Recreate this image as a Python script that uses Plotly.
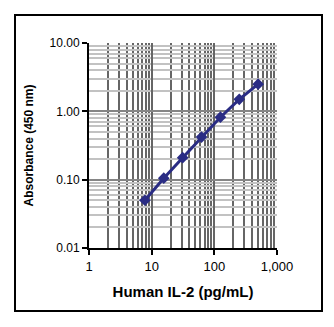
import plotly.graph_objects as go

# IL-2 standard curve
conc = [7.8, 15.6, 31.25, 62.5, 125, 250, 500]
absorbance = [0.05, 0.105, 0.21, 0.42, 0.82, 1.5, 2.5]

x_ticks = [1, 10, 100, 1000]
x_tick_text = ["1", "10", "100", "1,000"]
y_ticks = [0.01, 0.1, 1, 10]
y_tick_text = ["0.01", "0.10", "1.00", "10.00"]

W, H = 334, 327
L, R, T, B = 89, 57, 43, 79
pw, ph = W - L - R, H - T - B

fig = go.Figure()
fig.add_trace(go.Scatter(
    x=conc, y=absorbance, mode="lines+markers",
    line=dict(color="#2A2C84", width=3),
    marker=dict(symbol="diamond", size=9, color="#2A2C84"),
    showlegend=False,
))

font = dict(family="Liberation Sans, Arial, sans-serif", color="black")

fig.update_xaxes(
    type="log", range=[0, 3],
    tickvals=x_ticks, ticktext=x_tick_text,
    ticks="outside", ticklen=5, tickwidth=2, tickcolor="black",
    showline=True, linecolor="black", linewidth=2,
    showgrid=True, gridcolor="#666666", gridwidth=2,
    minor=dict(dtick="D1", showgrid=True, gridcolor="#666666", gridwidth=2, ticks=""),
    tickfont=dict(size=13, **font),
    title=dict(text="<b>Human IL-2 (pg/mL)</b>", font=dict(size=15, **font), standoff=14),
    zeroline=False,
)
fig.update_yaxes(
    type="log", range=[-2, 1],
    tickvals=y_ticks, ticktext=y_tick_text,
    ticks="outside", ticklen=5, tickwidth=2, tickcolor="black",
    showline=True, linecolor="black", linewidth=2,
    showgrid=True, gridcolor="#858585", gridwidth=2,
    minor=dict(dtick="D1", showgrid=True, gridcolor="#c2c2c2", gridwidth=2, ticks=""),
    tickfont=dict(size=12, **font),
    title=dict(text="<b>Absorbance (450 nm)</b>", font=dict(size=12, **font), standoff=13),
    zeroline=False,
)

# outer frame around the whole chart
fig.add_shape(
    type="rect", xref="paper", yref="paper",
    x0=(15 - L) / pw, x1=(322 - L) / pw,
    y0=-(311 - T - ph) / ph, y1=1 + (T - 15) / ph,
    line=dict(color="black", width=2), layer="below",
)

fig.update_layout(
    width=W, height=H,
    margin=dict(l=L, r=R, t=T, b=B),
    paper_bgcolor="white", plot_bgcolor="white",
)

fig.write_html("out.html")
